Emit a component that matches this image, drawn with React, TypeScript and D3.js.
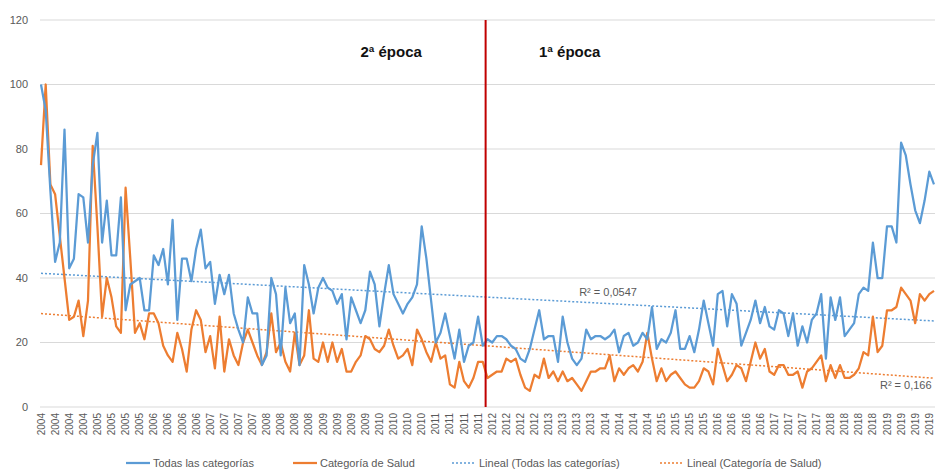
import React from "react";
import * as d3 from "d3";

const todas: number[] = [
  100, 92, 67, 45, 51, 86, 43, 46, 66, 65, 51, 75, 85, 51, 64, 47, 47, 65, 30, 38,
  39, 40, 30, 30, 47, 44, 49, 38, 58, 27, 46, 46, 39, 49, 55, 43, 45, 32, 41, 35,
  41, 29, 24, 20, 34, 29, 29, 13, 16, 40, 35, 16, 37, 26, 29, 13, 44, 38, 29, 37,
  40, 37, 36, 32, 35, 21, 34, 30, 26, 30, 42, 38, 25, 35, 44, 35, 32, 29, 32, 34,
  38, 56, 46, 33, 20, 23, 29, 22, 15, 24, 14, 19, 20, 28, 19, 21, 20, 22, 22, 21,
  19, 18, 15, 14, 18, 24, 30, 21, 22, 22, 14, 28, 20, 15, 13, 15, 24, 21, 22, 22,
  21, 22, 24, 17, 22, 23, 19, 20, 23, 21, 31, 18, 21, 20, 23, 30, 18, 18, 22, 17,
  24, 33, 26, 19, 35, 36, 25, 35, 32, 19, 23, 27, 33, 26, 31, 25, 24, 30, 29, 22,
  29, 19, 25, 20, 27, 29, 35, 15, 34, 27, 34, 22, 24, 26, 35, 37, 36, 51, 40, 40,
  56, 56, 51, 82, 78, 69, 61, 57, 64, 73, 69,
];

const salud: number[] = [
  75, 100, 69, 66, 53, 40, 27, 28, 33, 22, 33, 81, 56, 28, 40, 34, 25, 23, 68, 46,
  23, 26, 21, 29, 29, 26, 19, 16, 14, 23, 18, 11, 24, 30, 27, 17, 22, 12, 28, 11,
  21, 16, 13, 20, 24, 20, 16, 13, 17, 29, 17, 20, 14, 11, 23, 13, 16, 30, 15, 14,
  20, 14, 20, 14, 18, 11, 11, 14, 16, 22, 21, 18, 17, 19, 24, 19, 15, 16, 18, 13,
  24, 21, 17, 14, 20, 15, 16, 7, 6, 14, 8, 6, 9, 14, 14, 9, 10, 11, 11, 15,
  14, 15, 10, 6, 5, 10, 9, 15, 9, 11, 8, 11, 8, 9, 7, 5, 8, 11, 11, 12,
  12, 16, 8, 12, 10, 12, 13, 11, 14, 23, 15, 8, 12, 8, 10, 11, 9, 7, 6, 6,
  8, 12, 11, 7, 18, 13, 8, 10, 13, 12, 8, 14, 20, 15, 18, 11, 10, 13, 13, 10,
  10, 11, 6, 11, 12, 14, 16, 8, 13, 9, 13, 9, 9, 10, 12, 17, 16, 28, 17, 19,
  30, 30, 31, 37, 35, 33, 26, 35, 33, 35, 36,
];

const startYear = 2004;
const labelEvery = 3;
const yTicks = [0, 20, 40, 60, 80, 100, 120];
const dividerIndex = 94.6;
const epochLabels = ["2ª época", "1ª época"];
const epochCenters = [74.5, 112.5];
const r2Labels = ["R² = 0,0547", "R² = 0,166"];
const r2Positions = [[114.5, 34.5], [178.5, 5.5]];
const legendLabels = [
  "Todas las categorías",
  "Categoría de Salud",
  "Lineal (Todas las categorías)",
  "Lineal (Categoría de Salud)",
];

const W = 935;
const H = 471;
const BLUE = "#5B9BD5";
const ORANGE = "#ED7D31";
const TEXT = "#595959";
const FONT = "'Liberation Sans', Arial, sans-serif";

function linreg(ys: number[]) {
  const n = ys.length;
  const mx = d3.mean(ys, (_, i) => i)!;
  const my = d3.mean(ys)!;
  let sxy = 0, sxx = 0;
  ys.forEach((y, i) => {
    sxy += (i - mx) * (y - my);
    sxx += (i - mx) * (i - mx);
  });
  const slope = sxy / sxx;
  const intercept = my - slope * mx;
  return [0, n - 1].map((i) => [i, intercept + slope * i] as [number, number]);
}

export default function App() {
  const n = todas.length;
  const x = d3.scaleLinear().domain([0, n - 1]).range([41, 934]);
  const y = d3.scaleLinear().domain([0, 120]).range([407, 20]);
  const line = d3
    .line<number>()
    .x((_, i) => x(i))
    .y((v) => y(v));
  const tline = d3
    .line<[number, number]>()
    .x((d) => x(d[0]))
    .y((d) => y(d[1]));

  const labelIdx = d3.range(0, n, labelEvery);
  const legendX = [126, 293, 452, 660];
  const legendY = 463;

  return (
    <svg
      width={W}
      height={H}
      style={{ position: "absolute", left: 0, top: 0, background: "#fff" }}
      fontFamily={FONT}
    >
      {yTicks.map((t) => (
        <g key={t}>
          <line x1={40} x2={W} y1={y(t)} y2={y(t)} stroke="#d9d9d9" strokeWidth={1} />
          <text x={28} y={y(t)} dy="0.35em" textAnchor="end" fontSize={11} fill={TEXT}>
            {t}
          </text>
        </g>
      ))}
      {labelIdx.map((i) => (
        <text
          key={i}
          transform={`translate(${x(i) + 3.5},413) rotate(-90)`}
          textAnchor="end"
          fontSize={10}
          fill={TEXT}
        >
          {startYear + Math.floor(i / 12)}
        </text>
      ))}
      <path d={tline(linreg(todas))!} fill="none" stroke={BLUE} strokeWidth={1.5} strokeDasharray="2,2" />
      <path d={tline(linreg(salud))!} fill="none" stroke={ORANGE} strokeWidth={1.5} strokeDasharray="2,2" />
      <path d={line(salud)!} fill="none" stroke={ORANGE} strokeWidth={2.25} strokeLinejoin="round" />
      <path d={line(todas)!} fill="none" stroke={BLUE} strokeWidth={2.25} strokeLinejoin="round" />
      <line
        x1={x(dividerIndex)}
        x2={x(dividerIndex)}
        y1={y(120)}
        y2={y(0)}
        stroke="#C00000"
        strokeWidth={2}
      />
      {epochLabels.map((t, k) => (
        <text
          key={t}
          x={x(epochCenters[k])}
          y={57}
          textAnchor="middle"
          fontSize={15}
          fontWeight="bold"
          fill="#111"
        >
          {t}
        </text>
      ))}
      {r2Labels.map((t, k) => (
        <text
          key={t}
          x={x(r2Positions[k][0])}
          y={y(r2Positions[k][1])}
          fontSize={11}
          fill={TEXT}
        >
          {t}
        </text>
      ))}
      {legendLabels.map((t, k) => (
        <g key={t} transform={`translate(${legendX[k]},${legendY})`}>
          <line
            x1={0}
            x2={24}
            y1={0}
            y2={0}
            stroke={k % 2 === 0 ? BLUE : ORANGE}
            strokeWidth={k < 2 ? 2.25 : 1.5}
            strokeDasharray={k < 2 ? undefined : "2,2"}
          />
          <text x={27} y={0} dy="0.35em" fontSize={11} fill={TEXT}>
            {t}
          </text>
        </g>
      ))}
    </svg>
  );
}
